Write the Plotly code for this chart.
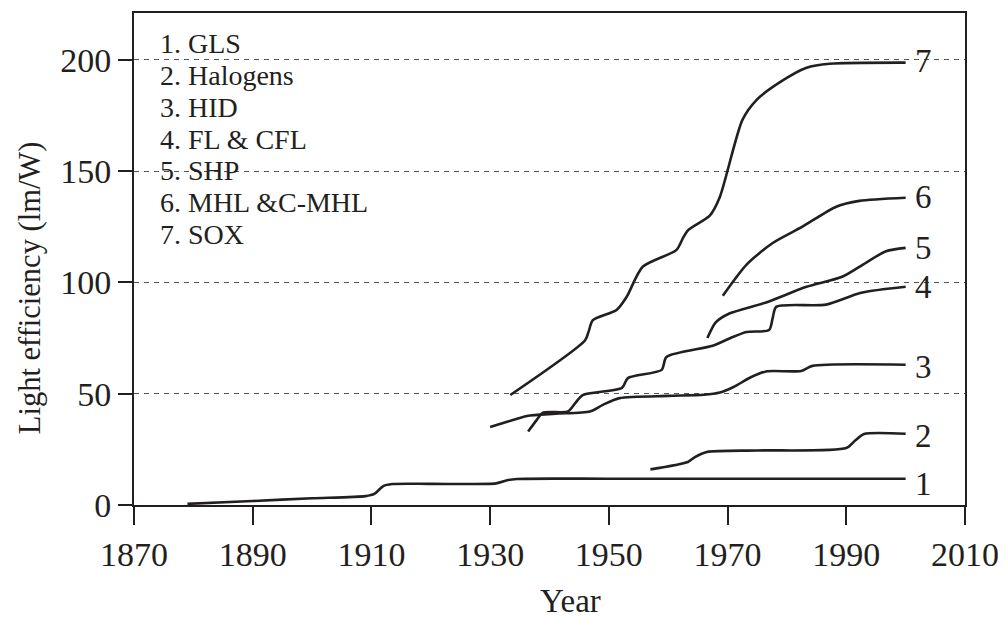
import plotly.graph_objects as go

# ---- data ----
gls_year = [1879, 1890, 1900, 1909, 1910.5, 1912, 1913.5, 1920, 1931, 1933, 1934.5, 1950, 1970, 2000]
gls_eff = [0.5, 1.8, 3.0, 4.0, 5.0, 8.5, 9.4, 9.5, 9.7, 11.2, 11.7, 11.8, 11.8, 11.8]

hal_year = [1957, 1963.3, 1964.5, 1966.5, 1975, 1990, 1991.5, 1993, 2000]
hal_eff = [16, 19.3, 21.5, 23.8, 24.5, 25.6, 29, 31.9, 32]

hid_year = [1930, 1933, 1936.2, 1941, 1946.8, 1949, 1951.8, 1960, 1966, 1968.7, 1971, 1974, 1976.5, 1982.4, 1984.3, 2000]
hid_eff = [35, 37.5, 40, 41, 42, 45, 48, 49, 49.5, 50.5, 53, 57.5, 60, 60.2, 62.5, 63]

fl_year = [1936.4, 1937.8, 1938.9, 1943.1, 1944.4, 1945.6, 1952.2, 1953.2, 1958.9, 1959.7, 1967.5, 1970.5, 1973.2, 1977, 1977.6, 1978.2, 1986.6, 1992.5, 2000]
fl_eff = [33, 38, 41.5, 42, 46, 49.4, 52.6, 57, 60.7, 66.5, 71.5, 75, 77.7, 78.6, 84, 89, 90, 95.3, 98]

shp_year = [1966.6, 1968, 1970.3, 1976.5, 1983.3, 1989.3, 1993.3, 1996.7, 2000]
shp_eff = [75, 82, 86, 91, 98, 102.5, 108.8, 114, 115.5]

mhl_year = [1969.2, 1973.2, 1977.6, 1982.6, 1988.3, 1992.2, 2000]
mhl_eff = [94, 108, 117.7, 125, 134, 136.6, 138]

sox_year = [1933.4, 1946, 1946.6, 1947.3, 1951.3, 1953, 1955.7, 1961.4, 1962.5, 1963.4, 1967, 1968.7, 1972.5, 1974.9, 1978.7, 1983.3, 1987.2, 2000]
sox_eff = [49.4, 74, 78, 83, 87.6, 93.5, 107, 114.6, 120, 123.6, 130, 138.4, 173, 182, 189.7, 196.4, 198.2, 198.7]

series_years = [gls_year, hal_year, hid_year, fl_year, shp_year, mhl_year, sox_year]
series_effs = [gls_eff, hal_eff, hid_eff, fl_eff, shp_eff, mhl_eff, sox_eff]
end_labels = ["1", "2", "3", "4", "5", "6", "7"]
end_label_y = [9.5, 31, 62, 98, 115.5, 138.5, 199.5]

legend_labels = ["1. GLS", "2. Halogens", "3. HID", "4. FL & CFL", "5. SHP", "6. MHL &C-MHL", "7. SOX"]
legend_y = [207.2, 192.8, 178.4, 164.0, 150.1, 135.7, 121.3]

x_ticks = [1870, 1890, 1910, 1930, 1950, 1970, 1990, 2010]
y_ticks = [0, 50, 100, 150, 200]

FONT = "Liberation Serif"
INK = "#231f20"

fig = go.Figure()
for yrs, effs in zip(series_years, series_effs):
    fig.add_trace(go.Scatter(
        x=yrs, y=effs, mode="lines",
        line=dict(color=INK, width=2.6, shape="spline", smoothing=0.7),
        showlegend=False, hoverinfo="skip"))

annotations = []
for lab, yv in zip(end_labels, end_label_y):
    annotations.append(dict(x=2001.3, y=yv, xref="x", yref="y", text=lab,
                            showarrow=False, xanchor="left", yanchor="middle",
                            font=dict(family=FONT, size=33, color=INK)))
for lab, yv in zip(legend_labels, legend_y):
    annotations.append(dict(x=1874.0, y=yv, xref="x", yref="y", text=lab,
                            showarrow=False, xanchor="left", yanchor="middle",
                            font=dict(family=FONT, size=28, color=INK)))
annotations.append(dict(x=0.525, y=-0.195, xref="paper", yref="paper", text="Year",
                        showarrow=False, xanchor="center", yanchor="middle",
                        font=dict(family=FONT, size=33, color=INK)))
annotations.append(dict(x=-0.125, y=0.441, xref="paper", yref="paper",
                        text="Light efficiency (lm/W)", textangle=-90,
                        showarrow=False, xanchor="center", yanchor="middle",
                        font=dict(family=FONT, size=30.5, color=INK)))

fig.update_layout(
    width=1005, height=618,
    margin=dict(l=134, r=40, t=13, b=113, autoexpand=False),
    paper_bgcolor="white", plot_bgcolor="white",
    annotations=annotations,
    font=dict(family=FONT, color=INK),
)
fig.update_xaxes(
    range=[1870, 2010], tickvals=x_ticks, ticks="outside", ticklen=18, tickwidth=2,
    tickcolor=INK, showline=True, linecolor=INK, linewidth=2, mirror=True,
    showgrid=False, zeroline=False, automargin=False, ticklabeloverflow="allow",
    tickfont=dict(family=FONT, size=34, color=INK))
fig.update_yaxes(
    range=[0, 221], tickvals=y_ticks, ticks="outside", ticklen=14, tickwidth=2,
    tickcolor=INK, showline=True, linecolor=INK, linewidth=2, mirror=True,
    showgrid=True, gridcolor="#555555", gridwidth=1, griddash="5px,5px",
    zeroline=False, automargin=False, ticklabeloverflow="allow",
    tickfont=dict(family=FONT, size=34, color=INK))

# remove the browser's default 8px body margin so the figure fills the window exactly
fig.write_html("out.html",
               config={"displayModeBar": False, "staticPlot": True},
               post_script="document.body.style.margin='0px';document.body.style.overflow='hidden';")
